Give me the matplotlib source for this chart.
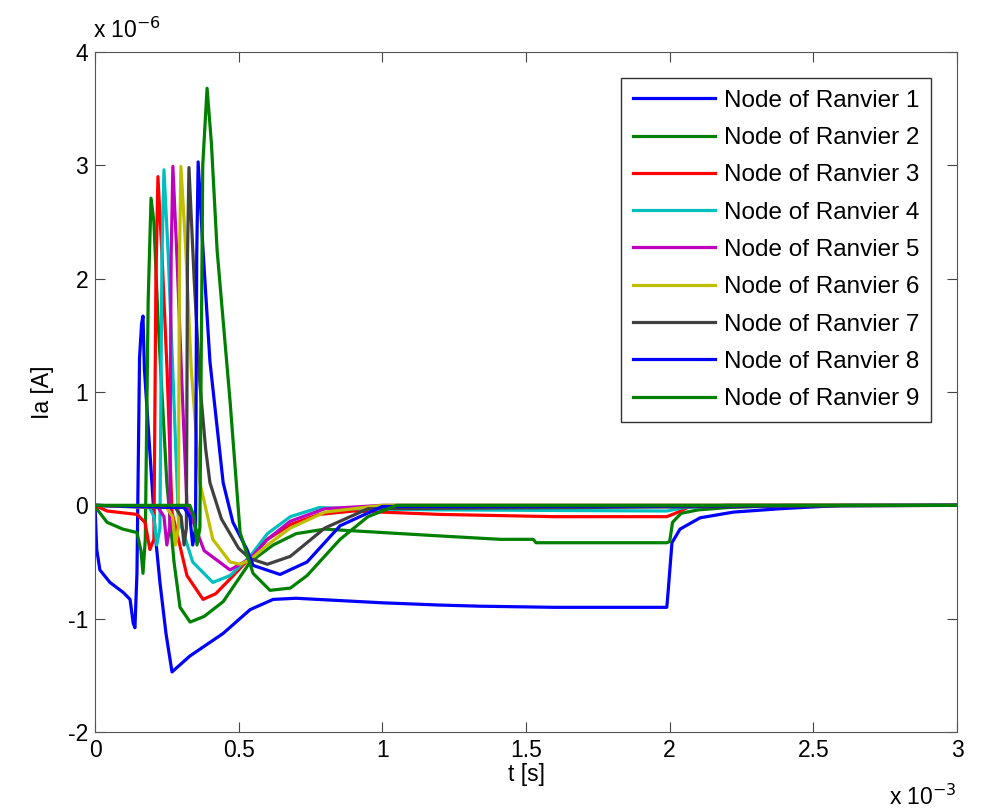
import matplotlib
matplotlib.use('Agg')
import matplotlib.pyplot as plt
import numpy as np

# time in ms, current in uA
t1 = [0, 0.006, 0.017, 0.052, 0.099, 0.122, 0.133, 0.139, 0.146, 0.155, 0.162, 0.167, 0.172, 0.198, 0.209,
      0.226, 0.247, 0.268, 0.33, 0.446, 0.54, 0.62, 0.70, 0.85, 1.0, 1.2, 1.34, 1.6, 1.99, 1.995, 2.008,
      2.036, 2.106, 2.221, 2.384, 2.6, 3.0]
i1 = [0, -0.39, -0.57, -0.68, -0.77, -0.83, -1.04, -1.08, -0.6, 1.3, 1.6, 1.67, 1.2, 0.2, -0.24,
      -0.68, -1.13, -1.47, -1.33, -1.13, -0.92, -0.83, -0.82, -0.84, -0.86, -0.88, -0.89, -0.90, -0.90, -0.75, -0.33,
      -0.21, -0.11, -0.06, -0.03, 0, 0]

t2 = [0, 0.006, 0.042, 0.097, 0.146, 0.16, 0.167, 0.175, 0.185, 0.195, 0.205, 0.22, 0.25, 0.275, 0.296, 0.331,
      0.38, 0.446, 0.54, 0.62, 0.70, 0.80, 1.0, 1.2, 1.41, 1.525, 1.535, 1.99, 2.0, 2.01, 2.04, 2.1, 2.2, 2.4, 3.0]
i2 = [0, -0.03, -0.15, -0.21, -0.24, -0.4, -0.6, -0.3, 1.8, 2.71, 2.5, 1.6, 0.2, -0.5, -0.9, -1.03,
      -0.98, -0.85, -0.5, -0.35, -0.25, -0.21, -0.24, -0.27, -0.3, -0.3, -0.33, -0.33, -0.32, -0.15, -0.07, -0.04, -0.02, 0, 0]

t3 = [0, 0.042, 0.146, 0.174, 0.191, 0.205, 0.212, 0.219, 0.233, 0.251, 0.268, 0.32, 0.376, 0.42, 0.47, 0.54,
      0.6, 0.68, 0.78, 0.9, 1.0, 1.2, 1.6, 1.99, 2.02, 2.07, 2.2, 3.0]
i3 = [0, -0.05, -0.08, -0.15, -0.39, -0.3, 2.0, 2.9, 2.22, 1.18, -0.06, -0.62, -0.83, -0.78, -0.65, -0.46,
      -0.3, -0.17, -0.08, -0.05, -0.06, -0.08, -0.1, -0.1, -0.07, -0.01, 0, 0]

t4 = [0, 0.19, 0.205, 0.215, 0.226, 0.233, 0.24, 0.255, 0.272, 0.29, 0.34, 0.41, 0.47, 0.54, 0.6, 0.68,
      0.78, 0.9, 1.2, 1.99, 2.05, 2.2, 3.0]
i4 = [0, -0.02, -0.1, -0.35, -0.2, 2.2, 2.96, 2.2, 1.1, -0.1, -0.5, -0.68, -0.62, -0.45, -0.25, -0.1,
      -0.02, -0.03, -0.04, -0.05, -0.02, 0, 0]

t5 = [0, 0.22, 0.24, 0.25, 0.26, 0.265, 0.271, 0.285, 0.302, 0.32, 0.38, 0.47, 0.54, 0.6, 0.68, 0.8, 1.0, 3.0]
i5 = [0, -0.02, -0.1, -0.35, -0.2, 2.2, 2.99, 2.2, 1.1, 0.0, -0.4, -0.57, -0.47, -0.3, -0.14, -0.03, 0, 0]

t6 = [0, 0.25, 0.27, 0.28, 0.29, 0.294, 0.299, 0.315, 0.335, 0.365, 0.41, 0.47, 0.505, 0.54, 0.6, 0.68,
      0.8, 1.0, 3.0]
i6 = [0, -0.02, -0.1, -0.35, -0.2, 2.2, 2.99, 2.3, 1.2, 0.2, -0.3, -0.5, -0.52, -0.48, -0.35, -0.2,
      -0.06, 0, 0]

t7 = [0, 0.28, 0.3, 0.31, 0.318, 0.322, 0.327, 0.345, 0.365, 0.385, 0.4, 0.44, 0.5, 0.54, 0.6, 0.68,
      0.8, 0.95, 3.0]
i7 = [0, -0.02, -0.1, -0.35, -0.2, 2.2, 2.98, 2.0, 1.07, 0.5, 0.2, -0.12, -0.38, -0.47, -0.52, -0.45,
      -0.2, -0.03, 0]

t8 = [0, 0.31, 0.33, 0.34, 0.35, 0.354, 0.359, 0.376, 0.4, 0.446, 0.48, 0.529, 0.55, 0.644, 0.738, 0.853,
      1.0, 3.0]
i8 = [0, -0.02, -0.1, -0.35, -0.2, 2.2, 3.03, 2.25, 1.27, 0.2, -0.15, -0.39, -0.53, -0.61, -0.5, -0.18,
      -0.01, 0]

t9 = [0, 0.33, 0.345, 0.355, 0.365, 0.375, 0.39, 0.405, 0.425, 0.47, 0.505, 0.55, 0.609, 0.68, 0.738,
      0.853, 0.95, 1.05, 3.0]
i9 = [0, 0, -0.1, -0.35, -0.2, 3.0, 3.68, 3.2, 2.25, 0.92, -0.24, -0.6, -0.75, -0.73, -0.62,
      -0.3, -0.1, 0, 0]

times = [t1, t2, t3, t4, t5, t6, t7, t8, t9]
currents = [i1, i2, i3, i4, i5, i6, i7, i8, i9]
labels = ['Node of Ranvier %d' % k for k in range(1, 10)]
colors = [(0, 0, 1), (0, 0.5, 0), (1, 0, 0), (0, 0.75, 0.75), (0.75, 0, 0.75),
          (0.75, 0.75, 0), (0.25, 0.25, 0.25), (0, 0, 1), (0, 0.5, 0)]

plt.rcParams['font.family'] = ['Liberation Sans', 'DejaVu Sans']
fs = 16.5

fig = plt.figure(figsize=(9.82, 8.10), dpi=100)
ax = fig.add_axes([95 / 982, 1 - 732 / 810, (957 - 95) / 982, (732 - 52) / 810])

for t, i, c, lab in zip(times, currents, colors, labels):
    ax.plot(np.array(t) * 1e-3, np.array(i) * 1e-6, color=c, lw=2.3, label=lab)

ax.set_xlim(0, 3e-3)
ax.set_ylim(-2e-6, 4e-6)
ax.set_xticks(np.arange(0, 3.01, 0.5) * 1e-3)
ax.set_xticklabels(['0', '0.5', '1', '1.5', '2', '2.5', '3'])
ax.set_yticks(np.arange(-2, 4.01, 1) * 1e-6)
ax.set_yticklabels(['-2', '-1', '0', '1', '2', '3', '4'])
ax.tick_params(direction='in', top=True, right=True, labelsize=fs, length=7, color='#444444', pad=5)
for s in ax.spines.values():
    s.set_color('#555555')

ax.set_xlabel('t [s]', fontsize=fs, labelpad=1)
ax.set_ylabel('Ia [A]', fontsize=fs, labelpad=10)
fig.text(93 / 982, 1 - 30 / 810, r'x 10$^{-6}$', fontsize=fs, ha='left', va='center')
fig.text(957 / 982, 1 - 797 / 810, r'x 10$^{-3}$', fontsize=fs, ha='right', va='center')

leg = ax.legend(loc='upper right', fontsize=17.5, handlelength=3.4, labelspacing=0.63,
                borderaxespad=1.05, fancybox=False, framealpha=1, edgecolor='#333333',
                borderpad=0.5, handletextpad=0.35)
leg.get_frame().set_linewidth(1.0)

fig.savefig('out.png', dpi=100)
